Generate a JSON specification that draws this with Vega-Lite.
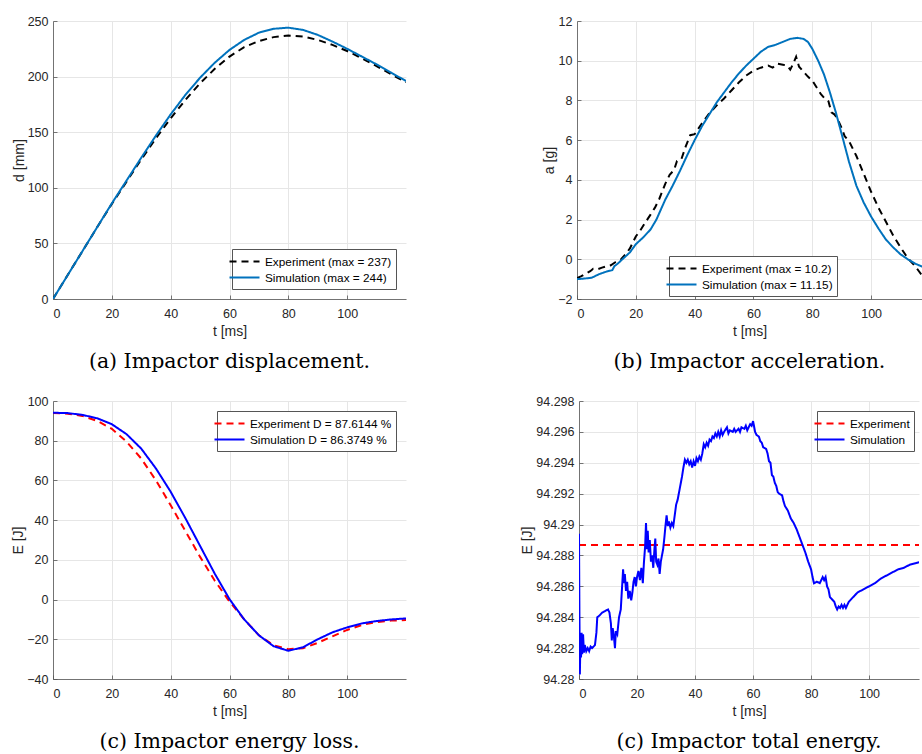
{
"$schema": "https://vega.github.io/schema/vega-lite/v6.json",
"background": "white",
"padding": {"left": 11, "top": 15, "right": 0, "bottom": 0},
"resolve": {"scale": {"color": "independent", "strokeDash": "independent"}},
"config": {
  "font": "Liberation Sans, Arial, Helvetica, sans-serif",
  "view": {"stroke": null},
  "axis": {"labelFont": "Liberation Sans, Arial, Helvetica, sans-serif", "labelFontSize": 12.5, "labelColor": "#262626", "titleFont": "Liberation Sans, Arial, Helvetica, sans-serif", "titleFontSize": 14, "titleFontWeight": "normal", "titleColor": "#262626", "gridColor": "#e6e6e6", "domainColor": "#555555", "domainWidth": 0.8, "ticks": true, "tickSize": -4, "tickColor": "#555555", "tickWidth": 0.8, "labelPadding": 9},
  "axisX": {"labelPadding": 12, "titlePadding": 5},
  "axisY": {"titlePadding": 1},
  "legend": {"labelFont": "Liberation Sans, Arial, Helvetica, sans-serif", "labelFontSize": 11.8, "labelColor": "#000000", "strokeColor": "#555555", "fillColor": "white", "padding": 4, "symbolType": "M-2,0H2", "symbolSize": 225, "symbolStrokeWidth": 2, "rowPadding": 0, "labelOffset": 12, "labelLimit": 300},
  "title": {"font": "DejaVu Serif", "fontSize": 20.5, "fontWeight": "normal", "color": "#000000", "orient": "bottom", "anchor": "middle", "frame": "group", "offset": 13}
},
"spacing": 23,
"vconcat": [
 {"spacing": 136, "resolve": {"scale": {"color": "independent", "strokeDash": "independent"}}, "hconcat": [
  {"width": 353, "height": 278,
   "title": {"text": "(a) Impactor displacement."},
   "data": {"values": [
    {"t":0,"v":0,"s":"E"},{"t":5,"v":21.5,"s":"E"},{"t":10,"v":43,"s":"E"},{"t":15,"v":64.5,"s":"E"},{"t":20,"v":85.5,"s":"E"},{"t":25,"v":105.5,"s":"E"},{"t":30,"v":125.5,"s":"E"},{"t":35,"v":144.5,"s":"E"},{"t":40,"v":162.5,"s":"E"},{"t":45,"v":179,"s":"E"},{"t":50,"v":194,"s":"E"},{"t":55,"v":207,"s":"E"},{"t":60,"v":218,"s":"E"},{"t":65,"v":226.5,"s":"E"},{"t":70,"v":232,"s":"E"},{"t":75,"v":235.5,"s":"E"},{"t":80,"v":237,"s":"E"},{"t":85,"v":236,"s":"E"},{"t":90,"v":233,"s":"E"},{"t":95,"v":228.5,"s":"E"},{"t":100,"v":223,"s":"E"},{"t":105,"v":216.5,"s":"E"},{"t":110,"v":209.5,"s":"E"},{"t":115,"v":202,"s":"E"},{"t":120,"v":195,"s":"E"},
    {"t":0,"v":0,"s":"S"},{"t":5,"v":21.5,"s":"S"},{"t":10,"v":43,"s":"S"},{"t":15,"v":64.5,"s":"S"},{"t":20,"v":86,"s":"S"},{"t":25,"v":106.5,"s":"S"},{"t":30,"v":127,"s":"S"},{"t":35,"v":147,"s":"S"},{"t":40,"v":166,"s":"S"},{"t":45,"v":183.5,"s":"S"},{"t":50,"v":199,"s":"S"},{"t":55,"v":212.5,"s":"S"},{"t":60,"v":224,"s":"S"},{"t":65,"v":233,"s":"S"},{"t":70,"v":239.5,"s":"S"},{"t":75,"v":243,"s":"S"},{"t":80,"v":244,"s":"S"},{"t":85,"v":242,"s":"S"},{"t":90,"v":237.5,"s":"S"},{"t":95,"v":231.5,"s":"S"},{"t":100,"v":225,"s":"S"},{"t":105,"v":218,"s":"S"},{"t":110,"v":211,"s":"S"},{"t":115,"v":203.5,"s":"S"},{"t":120,"v":196,"s":"S"}
   ]},
   "mark": {"type": "line", "strokeWidth": 2, "clip": true},
   "encoding": {
    "x": {"field": "t", "type": "quantitative", "scale": {"domain": [0, 120], "nice": false, "zero": false}, "axis": {"values": [0,20,40,60,80,100], "title": "t [ms]"}},
    "y": {"field": "v", "type": "quantitative", "scale": {"domain": [0, 250], "nice": false}, "axis": {"values": [0,50,100,150,200,250], "title": "d [mm]"}},
    "color": {"field": "s", "type": "nominal", "scale": {"domain": ["E","S"], "range": ["#000000","#0072BD"]}, "legend": {"title": null, "orient": "bottom-right", "offset": 10, "labelExpr": "datum.label == 'E' ? 'Experiment (max = 237)' : 'Simulation (max = 244)'"}},
    "strokeDash": {"field": "s", "type": "nominal", "scale": {"domain": ["E","S"], "range": [[7,5],[1,0]]}, "legend": {"title": null, "orient": "bottom-right", "offset": 10, "labelExpr": "datum.label == 'E' ? 'Experiment (max = 237)' : 'Simulation (max = 244)'"}}
   }
  },
  {"width": 345, "height": 278,
   "title": {"text": "(b) Impactor acceleration."},
   "data": {"values": [
    {"t":0,"v":-0.95,"s":"E"},{"t":1.5,"v":-0.85,"s":"E"},{"t":3,"v":-0.72,"s":"E"},{"t":4.5,"v":-0.6,"s":"E"},{"t":5.5,"v":-0.48,"s":"E"},{"t":7,"v":-0.5,"s":"E"},{"t":8.5,"v":-0.42,"s":"E"},{"t":10,"v":-0.35,"s":"E"},{"t":11.5,"v":-0.3,"s":"E"},{"t":13,"v":-0.15,"s":"E"},{"t":15,"v":0.0,"s":"E"},{"t":16.5,"v":0.25,"s":"E"},{"t":18,"v":0.55,"s":"E"},{"t":20,"v":1.15,"s":"E"},{"t":21.5,"v":1.45,"s":"E"},{"t":23,"v":1.8,"s":"E"},{"t":25,"v":2.25,"s":"E"},{"t":26.5,"v":2.6,"s":"E"},{"t":28,"v":3.05,"s":"E"},{"t":30,"v":3.8,"s":"E"},{"t":31.5,"v":4.25,"s":"E"},{"t":33,"v":4.5,"s":"E"},{"t":34,"v":4.95,"s":"E"},{"t":35.5,"v":5.05,"s":"E"},{"t":37,"v":5.7,"s":"E"},{"t":38.5,"v":6.25,"s":"E"},{"t":40,"v":6.3,"s":"E"},{"t":42.5,"v":6.85,"s":"E"},{"t":45,"v":7.35,"s":"E"},{"t":47.5,"v":7.75,"s":"E"},{"t":50,"v":8.1,"s":"E"},{"t":52.5,"v":8.5,"s":"E"},{"t":55,"v":8.9,"s":"E"},{"t":57.5,"v":9.25,"s":"E"},{"t":60,"v":9.5,"s":"E"},{"t":62.5,"v":9.65,"s":"E"},{"t":65,"v":9.75,"s":"E"},{"t":66.5,"v":9.65,"s":"E"},{"t":68,"v":9.85,"s":"E"},{"t":70,"v":9.8,"s":"E"},{"t":71.5,"v":9.75,"s":"E"},{"t":72.5,"v":9.55,"s":"E"},{"t":73.5,"v":9.85,"s":"E"},{"t":74.5,"v":10.2,"s":"E"},{"t":75.5,"v":9.7,"s":"E"},{"t":77,"v":9.45,"s":"E"},{"t":78.5,"v":9.2,"s":"E"},{"t":80,"v":9.0,"s":"E"},{"t":81.5,"v":8.65,"s":"E"},{"t":83,"v":8.3,"s":"E"},{"t":84.5,"v":8.05,"s":"E"},{"t":85.5,"v":7.95,"s":"E"},{"t":86.5,"v":7.4,"s":"E"},{"t":87.5,"v":7.3,"s":"E"},{"t":88.5,"v":7.1,"s":"E"},{"t":90,"v":6.6,"s":"E"},{"t":91,"v":6.2,"s":"E"},{"t":92.5,"v":5.95,"s":"E"},{"t":95,"v":5.2,"s":"E"},{"t":97.5,"v":4.3,"s":"E"},{"t":100,"v":3.4,"s":"E"},{"t":102.5,"v":2.6,"s":"E"},{"t":105,"v":1.9,"s":"E"},{"t":107.5,"v":1.2,"s":"E"},{"t":110,"v":0.6,"s":"E"},{"t":112.5,"v":0.05,"s":"E"},{"t":115,"v":-0.35,"s":"E"},{"t":117.5,"v":-0.85,"s":"E"},{"t":120,"v":-1.1,"s":"E"},
    {"t":0,"v":-1.0,"s":"S"},{"t":2.5,"v":-0.97,"s":"S"},{"t":5,"v":-0.93,"s":"S"},{"t":7.5,"v":-0.75,"s":"S"},{"t":10,"v":-0.62,"s":"S"},{"t":12,"v":-0.55,"s":"S"},{"t":12.7,"v":-0.35,"s":"S"},{"t":14,"v":-0.2,"s":"S"},{"t":16,"v":0.08,"s":"S"},{"t":18,"v":0.35,"s":"S"},{"t":20,"v":0.76,"s":"S"},{"t":22.5,"v":1.1,"s":"S"},{"t":25,"v":1.5,"s":"S"},{"t":27,"v":2.0,"s":"S"},{"t":30,"v":3.0,"s":"S"},{"t":32.5,"v":3.7,"s":"S"},{"t":35,"v":4.45,"s":"S"},{"t":37.5,"v":5.25,"s":"S"},{"t":40,"v":6.0,"s":"S"},{"t":42.5,"v":6.7,"s":"S"},{"t":45,"v":7.3,"s":"S"},{"t":47.5,"v":7.9,"s":"S"},{"t":50,"v":8.4,"s":"S"},{"t":52.5,"v":8.9,"s":"S"},{"t":55,"v":9.35,"s":"S"},{"t":57.5,"v":9.75,"s":"S"},{"t":60,"v":10.1,"s":"S"},{"t":62.5,"v":10.45,"s":"S"},{"t":65,"v":10.7,"s":"S"},{"t":67.5,"v":10.8,"s":"S"},{"t":70,"v":10.95,"s":"S"},{"t":72.5,"v":11.1,"s":"S"},{"t":75,"v":11.15,"s":"S"},{"t":77,"v":11.1,"s":"S"},{"t":78.5,"v":10.95,"s":"S"},{"t":80,"v":10.6,"s":"S"},{"t":82,"v":10.0,"s":"S"},{"t":84,"v":9.3,"s":"S"},{"t":86,"v":8.4,"s":"S"},{"t":88,"v":7.4,"s":"S"},{"t":90,"v":6.3,"s":"S"},{"t":92.5,"v":4.9,"s":"S"},{"t":95,"v":3.7,"s":"S"},{"t":97.5,"v":2.85,"s":"S"},{"t":100,"v":2.15,"s":"S"},{"t":102.5,"v":1.55,"s":"S"},{"t":105,"v":1.0,"s":"S"},{"t":107.5,"v":0.6,"s":"S"},{"t":110,"v":0.25,"s":"S"},{"t":112.5,"v":0.0,"s":"S"},{"t":115,"v":-0.22,"s":"S"},{"t":117.5,"v":-0.38,"s":"S"},{"t":120,"v":-0.5,"s":"S"}
   ]},
   "mark": {"type": "line", "strokeWidth": 2, "clip": true},
   "encoding": {
    "x": {"field": "t", "type": "quantitative", "scale": {"domain": [0, 117.3], "nice": false, "zero": false}, "axis": {"values": [0,20,40,60,80,100], "title": "t [ms]"}},
    "y": {"field": "v", "type": "quantitative", "scale": {"domain": [-2, 12], "nice": false}, "axis": {"values": [-2,0,2,4,6,8,10,12], "title": "a [g]"}},
    "color": {"field": "s", "type": "nominal", "scale": {"domain": ["E","S"], "range": ["#000000","#0072BD"]}, "legend": {"title": null, "orient": "none", "legendX": 92, "legendY": 235, "labelExpr": "datum.label == 'E' ? 'Experiment (max = 10.2)' : 'Simulation (max = 11.15)'"}},
    "strokeDash": {"field": "s", "type": "nominal", "scale": {"domain": ["E","S"], "range": [[7,5],[1,0]]}, "legend": {"title": null, "orient": "none", "legendX": 92, "legendY": 235, "labelExpr": "datum.label == 'E' ? 'Experiment (max = 10.2)' : 'Simulation (max = 11.15)'"}}
   }
  }
 ]},
 {"spacing": 114, "resolve": {"scale": {"color": "independent", "strokeDash": "independent"}}, "hconcat": [
  {"width": 353, "height": 278,
   "title": {"text": "(c) Impactor energy loss."},
   "data": {"values": [
    {"t":0,"v":94,"s":"E"},{"t":5,"v":93.6,"s":"E"},{"t":10,"v":92.5,"s":"E"},{"t":15,"v":90,"s":"E"},{"t":20,"v":86,"s":"E"},{"t":25,"v":79.5,"s":"E"},{"t":30,"v":71,"s":"E"},{"t":35,"v":60,"s":"E"},{"t":40,"v":47.5,"s":"E"},{"t":45,"v":34.5,"s":"E"},{"t":50,"v":21.5,"s":"E"},{"t":55,"v":9.5,"s":"E"},{"t":60,"v":-1,"s":"E"},{"t":65,"v":-10,"s":"E"},{"t":70,"v":-18,"s":"E"},{"t":75,"v":-23,"s":"E"},{"t":80,"v":-25,"s":"E"},{"t":85,"v":-24.5,"s":"E"},{"t":90,"v":-21.8,"s":"E"},{"t":95,"v":-18.5,"s":"E"},{"t":100,"v":-15.3,"s":"E"},{"t":105,"v":-12.8,"s":"E"},{"t":110,"v":-11.3,"s":"E"},{"t":115,"v":-10.6,"s":"E"},{"t":120,"v":-10.3,"s":"E"},
    {"t":0,"v":94.1,"s":"S"},{"t":5,"v":93.9,"s":"S"},{"t":10,"v":93,"s":"S"},{"t":15,"v":91.3,"s":"S"},{"t":20,"v":88.3,"s":"S"},{"t":25,"v":83.3,"s":"S"},{"t":30,"v":76,"s":"S"},{"t":35,"v":66,"s":"S"},{"t":40,"v":54.3,"s":"S"},{"t":45,"v":41,"s":"S"},{"t":50,"v":27,"s":"S"},{"t":55,"v":13,"s":"S"},{"t":60,"v":0.2,"s":"S"},{"t":65,"v":-10,"s":"S"},{"t":70,"v":-18,"s":"S"},{"t":75,"v":-23.5,"s":"S"},{"t":80,"v":-25.8,"s":"S"},{"t":85,"v":-24,"s":"S"},{"t":90,"v":-20,"s":"S"},{"t":95,"v":-16.5,"s":"S"},{"t":100,"v":-14,"s":"S"},{"t":105,"v":-12,"s":"S"},{"t":110,"v":-10.8,"s":"S"},{"t":115,"v":-10,"s":"S"},{"t":120,"v":-9.5,"s":"S"}
   ]},
   "mark": {"type": "line", "strokeWidth": 2, "clip": true},
   "encoding": {
    "x": {"field": "t", "type": "quantitative", "scale": {"domain": [0, 120], "nice": false, "zero": false}, "axis": {"values": [0,20,40,60,80,100], "title": "t [ms]"}},
    "y": {"field": "v", "type": "quantitative", "scale": {"domain": [-40, 100], "nice": false}, "axis": {"values": [-40,-20,0,20,40,60,80,100], "title": "E [J]"}},
    "color": {"field": "s", "type": "nominal", "scale": {"domain": ["E","S"], "range": ["#ff0000","#0000ff"]}, "legend": {"title": null, "orient": "top-right", "offset": 10, "labelExpr": "datum.label == 'E' ? 'Experiment D = 87.6144 %' : 'Simulation D = 86.3749 %'"}},
    "strokeDash": {"field": "s", "type": "nominal", "scale": {"domain": ["E","S"], "range": [[7,5],[1,0]]}, "legend": {"title": null, "orient": "top-right", "offset": 10, "labelExpr": "datum.label == 'E' ? 'Experiment D = 87.6144 %' : 'Simulation D = 86.3749 %'"}}
   }
  },
  {"width": 340, "height": 278,
   "title": {"text": "(c) Impactor total energy."},
   "data": {"values": [
    {"t":0,"v":94.28867,"s":"E"},{"t":120,"v":94.28867,"s":"E"},
    {"t":0,"v":94.2894,"s":"S"},{"t":0.15,"v":94.2842,"s":"S"},{"t":0.3,"v":94.2803,"s":"S"},{"t":0.5,"v":94.2826,"s":"S"},{"t":0.7,"v":94.2814,"s":"S"},{"t":0.9,"v":94.283,"s":"S"},{"t":1.1,"v":94.2816,"s":"S"},{"t":1.4,"v":94.2829,"s":"S"},{"t":1.7,"v":94.2817,"s":"S"},{"t":2,"v":94.2822,"s":"S"},{"t":2.5,"v":94.2818,"s":"S"},{"t":3,"v":94.282,"s":"S"},{"t":3.5,"v":94.2818,"s":"S"},{"t":4,"v":94.2821,"s":"S"},{"t":4.5,"v":94.282,"s":"S"},{"t":5,"v":94.2821,"s":"S"},{"t":5.5,"v":94.2822,"s":"S"},{"t":6,"v":94.283,"s":"S"},{"t":6.3,"v":94.284,"s":"S"},{"t":7,"v":94.2841,"s":"S"},{"t":8,"v":94.2843,"s":"S"},{"t":9,"v":94.2844,"s":"S"},{"t":10,"v":94.2845,"s":"S"},{"t":10.5,"v":94.2843,"s":"S"},{"t":11,"v":94.2836,"s":"S"},{"t":11.3,"v":94.2825,"s":"S"},{"t":11.6,"v":94.2833,"s":"S"},{"t":12,"v":94.2828,"s":"S"},{"t":12.4,"v":94.282,"s":"S"},{"t":12.7,"v":94.2831,"s":"S"},{"t":13.2,"v":94.2829,"s":"S"},{"t":13.8,"v":94.284,"s":"S"},{"t":14.4,"v":94.2845,"s":"S"},{"t":14.8,"v":94.2858,"s":"S"},{"t":15.2,"v":94.2871,"s":"S"},{"t":15.5,"v":94.2862,"s":"S"},{"t":15.8,"v":94.2868,"s":"S"},{"t":16.2,"v":94.2857,"s":"S"},{"t":16.6,"v":94.2863,"s":"S"},{"t":17,"v":94.2852,"s":"S"},{"t":17.5,"v":94.2857,"s":"S"},{"t":18,"v":94.2851,"s":"S"},{"t":18.4,"v":94.2856,"s":"S"},{"t":18.8,"v":94.2863,"s":"S"},{"t":19.2,"v":94.2866,"s":"S"},{"t":19.6,"v":94.286,"s":"S"},{"t":20,"v":94.2866,"s":"S"},{"t":20.5,"v":94.287,"s":"S"},{"t":21,"v":94.2864,"s":"S"},{"t":21.5,"v":94.2872,"s":"S"},{"t":22,"v":94.2862,"s":"S"},{"t":22.4,"v":94.2876,"s":"S"},{"t":22.8,"v":94.2886,"s":"S"},{"t":23.1,"v":94.2901,"s":"S"},{"t":23.4,"v":94.2884,"s":"S"},{"t":23.7,"v":94.2896,"s":"S"},{"t":24,"v":94.2882,"s":"S"},{"t":24.4,"v":94.289,"s":"S"},{"t":24.8,"v":94.2876,"s":"S"},{"t":25.2,"v":94.288,"s":"S"},{"t":25.6,"v":94.2872,"s":"S"},{"t":26,"v":94.2884,"s":"S"},{"t":26.3,"v":94.2891,"s":"S"},{"t":26.6,"v":94.2876,"s":"S"},{"t":27,"v":94.2874,"s":"S"},{"t":27.4,"v":94.2878,"s":"S"},{"t":27.8,"v":94.2868,"s":"S"},{"t":28.2,"v":94.2876,"s":"S"},{"t":28.6,"v":94.288,"s":"S"},{"t":29,"v":94.2884,"s":"S"},{"t":29.4,"v":94.2891,"s":"S"},{"t":29.8,"v":94.2899,"s":"S"},{"t":30.2,"v":94.2906,"s":"S"},{"t":30.6,"v":94.2899,"s":"S"},{"t":31,"v":94.2902,"s":"S"},{"t":31.5,"v":94.2898,"s":"S"},{"t":32,"v":94.2901,"s":"S"},{"t":32.5,"v":94.2899,"s":"S"},{"t":33,"v":94.2906,"s":"S"},{"t":33.5,"v":94.2913,"s":"S"},{"t":34,"v":94.2916,"s":"S"},{"t":34.5,"v":94.2921,"s":"S"},{"t":35,"v":94.2926,"s":"S"},{"t":35.5,"v":94.2931,"s":"S"},{"t":36,"v":94.2937,"s":"S"},{"t":36.5,"v":94.2942,"s":"S"},{"t":37,"v":94.294,"s":"S"},{"t":37.5,"v":94.2942,"s":"S"},{"t":38,"v":94.2939,"s":"S"},{"t":38.5,"v":94.2941,"s":"S"},{"t":39,"v":94.2937,"s":"S"},{"t":39.5,"v":94.2941,"s":"S"},{"t":40,"v":94.2938,"s":"S"},{"t":40.5,"v":94.2943,"s":"S"},{"t":41,"v":94.2941,"s":"S"},{"t":41.5,"v":94.2944,"s":"S"},{"t":42,"v":94.2942,"s":"S"},{"t":42.5,"v":94.2946,"s":"S"},{"t":43,"v":94.2952,"s":"S"},{"t":43.5,"v":94.295,"s":"S"},{"t":44,"v":94.2953,"s":"S"},{"t":44.5,"v":94.2951,"s":"S"},{"t":45,"v":94.2955,"s":"S"},{"t":45.5,"v":94.2954,"s":"S"},{"t":46,"v":94.2957,"s":"S"},{"t":46.5,"v":94.2956,"s":"S"},{"t":47,"v":94.2959,"s":"S"},{"t":47.5,"v":94.2957,"s":"S"},{"t":48,"v":94.296,"s":"S"},{"t":48.5,"v":94.2957,"s":"S"},{"t":49,"v":94.2961,"s":"S"},{"t":49.5,"v":94.2958,"s":"S"},{"t":50,"v":94.296,"s":"S"},{"t":51,"v":94.2963,"s":"S"},{"t":51.5,"v":94.2959,"s":"S"},{"t":52,"v":94.2961,"s":"S"},{"t":53,"v":94.296,"s":"S"},{"t":53.5,"v":94.2962,"s":"S"},{"t":54,"v":94.296,"s":"S"},{"t":55,"v":94.2962,"s":"S"},{"t":55.5,"v":94.296,"s":"S"},{"t":56,"v":94.2963,"s":"S"},{"t":57,"v":94.2962,"s":"S"},{"t":57.5,"v":94.2964,"s":"S"},{"t":58,"v":94.2961,"s":"S"},{"t":58.5,"v":94.2963,"s":"S"},{"t":59,"v":94.2965,"s":"S"},{"t":59.5,"v":94.2964,"s":"S"},{"t":60,"v":94.2967,"s":"S"},{"t":60.3,"v":94.2964,"s":"S"},{"t":60.7,"v":94.296,"s":"S"},{"t":61.2,"v":94.2958,"s":"S"},{"t":62,"v":94.2957,"s":"S"},{"t":62.5,"v":94.2954,"s":"S"},{"t":63,"v":94.2953,"s":"S"},{"t":63.5,"v":94.295,"s":"S"},{"t":64.5,"v":94.2949,"s":"S"},{"t":65,"v":94.2946,"s":"S"},{"t":65.5,"v":94.2941,"s":"S"},{"t":66,"v":94.294,"s":"S"},{"t":66.5,"v":94.2932,"s":"S"},{"t":67,"v":94.2931,"s":"S"},{"t":67.5,"v":94.2927,"s":"S"},{"t":68,"v":94.2925,"s":"S"},{"t":68.5,"v":94.2921,"s":"S"},{"t":69,"v":94.292,"s":"S"},{"t":70,"v":94.2919,"s":"S"},{"t":70.5,"v":94.2915,"s":"S"},{"t":71,"v":94.2912,"s":"S"},{"t":72,"v":94.2909,"s":"S"},{"t":73,"v":94.2904,"s":"S"},{"t":74,"v":94.2901,"s":"S"},{"t":75,"v":94.2897,"s":"S"},{"t":76,"v":94.2892,"s":"S"},{"t":77,"v":94.2887,"s":"S"},{"t":78,"v":94.2882,"s":"S"},{"t":79,"v":94.2876,"s":"S"},{"t":80,"v":94.2871,"s":"S"},{"t":80.5,"v":94.2866,"s":"S"},{"t":81,"v":94.2862,"s":"S"},{"t":82,"v":94.2863,"s":"S"},{"t":83,"v":94.2862,"s":"S"},{"t":84,"v":94.2866,"s":"S"},{"t":84.5,"v":94.2864,"s":"S"},{"t":85,"v":94.2866,"s":"S"},{"t":85.5,"v":94.286,"s":"S"},{"t":86,"v":94.2858,"s":"S"},{"t":86.5,"v":94.2853,"s":"S"},{"t":87,"v":94.2852,"s":"S"},{"t":88,"v":94.285,"s":"S"},{"t":88.5,"v":94.2847,"s":"S"},{"t":89,"v":94.2845,"s":"S"},{"t":89.5,"v":94.2847,"s":"S"},{"t":90,"v":94.2846,"s":"S"},{"t":90.5,"v":94.2848,"s":"S"},{"t":91,"v":94.2846,"s":"S"},{"t":91.5,"v":94.2848,"s":"S"},{"t":92,"v":94.2846,"s":"S"},{"t":93,"v":94.285,"s":"S"},{"t":94,"v":94.2852,"s":"S"},{"t":95,"v":94.2854,"s":"S"},{"t":96,"v":94.2856,"s":"S"},{"t":97,"v":94.2857,"s":"S"},{"t":98,"v":94.2858,"s":"S"},{"t":100,"v":94.286,"s":"S"},{"t":102,"v":94.2862,"s":"S"},{"t":104,"v":94.2865,"s":"S"},{"t":106,"v":94.2867,"s":"S"},{"t":108,"v":94.2869,"s":"S"},{"t":110,"v":94.2871,"s":"S"},{"t":112,"v":94.2872,"s":"S"},{"t":114,"v":94.2874,"s":"S"},{"t":116,"v":94.2875,"s":"S"},{"t":118,"v":94.2876,"s":"S"},{"t":120,"v":94.2877,"s":"S"}
   ]},
   "mark": {"type": "line", "strokeWidth": 2, "clip": true},
   "encoding": {
    "x": {"field": "t", "type": "quantitative", "scale": {"domain": [0, 117.2], "nice": false, "zero": false}, "axis": {"values": [0,20,40,60,80,100], "title": "t [ms]"}},
    "y": {"field": "v", "type": "quantitative", "scale": {"domain": [94.28, 94.298], "nice": false, "zero": false}, "axis": {"values": [94.28,94.282,94.284,94.286,94.288,94.29,94.292,94.294,94.296,94.298], "format": ".5~g", "title": "E [J]"}},
    "color": {"field": "s", "type": "nominal", "scale": {"domain": ["E","S"], "range": ["#ff0000","#0000ff"]}, "legend": {"title": null, "orient": "none", "legendX": 238, "legendY": 10, "labelExpr": "datum.label == 'E' ? 'Experiment' : 'Simulation'"}},
    "strokeDash": {"field": "s", "type": "nominal", "scale": {"domain": ["E","S"], "range": [[7,5],[1,0]]}, "legend": {"title": null, "orient": "none", "legendX": 238, "legendY": 10, "labelExpr": "datum.label == 'E' ? 'Experiment' : 'Simulation'"}}
   }
  }
 ]}
]
}
